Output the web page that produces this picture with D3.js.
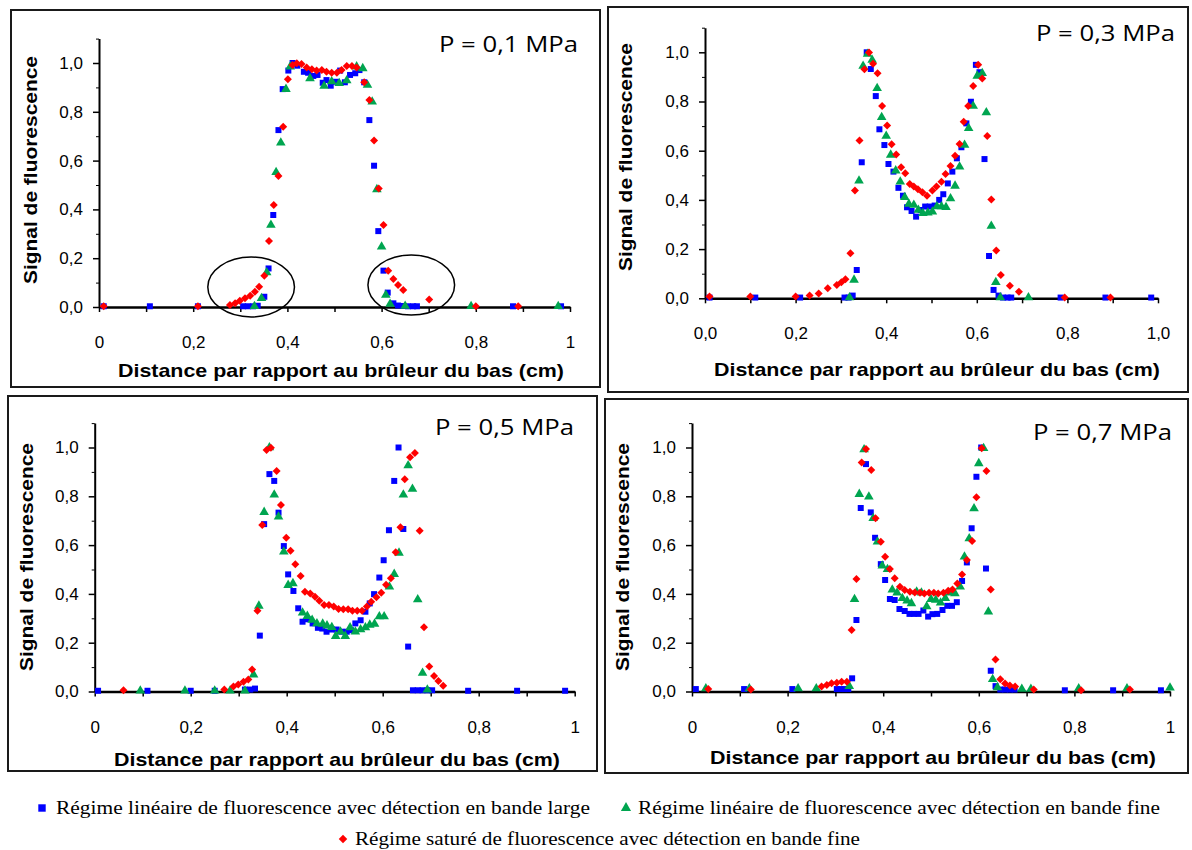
<!DOCTYPE html>
<html><head><meta charset="utf-8">
<script src="https://cdn.jsdelivr.net/npm/d3@7"></script>
<style>body{margin:0;background:#fff}svg{display:block}</style>
</head><body><svg id="c" width="1192" height="850"></svg>
<script>
// ---------- DATA ----------
const yTickValues = [0, 0.2, 0.4, 0.6, 0.8, 1.0];
const xTickValues = [0, 0.2, 0.4, 0.6, 0.8, 1.0];
const panelTitles = ["P = 0,1 MPa", "P = 0,3 MPa", "P = 0,5 MPa", "P = 0,7 MPa"];
const seriesNames = [
  "Régime linéaire de fluorescence avec détection en bande large",
  "Régime linéaire de fluorescence avec détection en bande fine",
  "Régime saturé de fluorescence avec détection en bande fine"
];
const yTitle = "Signal de fluorescence";
const xTitle = "Distance par rapport au brûleur du bas (cm)";

// P = 0,1 MPa
const p01Blue = [[0.01,0.003],[0.108,0.003],[0.21,0.003],[0.306,0.003],[0.316,0.003],[0.327,0.003],[0.337,0.005],[0.351,0.042],[0.36,0.158],[0.37,0.377],[0.381,0.725],[0.39,0.893],[0.402,0.969],[0.411,1.0],[0.421,0.989],[0.435,0.964],[0.444,0.96],[0.455,0.947],[0.464,0.951],[0.475,0.919],[0.483,0.93],[0.492,0.907],[0.503,0.923],[0.512,0.969],[0.522,0.921],[0.533,0.951],[0.544,0.958],[0.553,0.971],[0.563,0.921],[0.574,0.766],[0.584,0.579],[0.593,0.311],[0.604,0.149],[0.613,0.059],[0.625,0.015],[0.635,0.006],[0.646,0.004],[0.656,0.003],[0.667,0.003],[0.675,0.003],[0.879,0.003],[0.981,0.003]];
const p01Green = [[0.33,0.003],[0.345,0.036],[0.356,0.141],[0.365,0.336],[0.376,0.552],[0.386,0.673],[0.397,0.893],[0.406,0.985],[0.448,0.937],[0.478,0.906],[0.494,0.924],[0.510,0.917],[0.526,0.928],[0.547,0.985],[0.560,0.978],[0.570,0.910],[0.580,0.841],[0.590,0.482],[0.600,0.247],[0.609,0.049],[0.618,0.012],[0.65,0.004],[0.79,0.003],[0.975,0.003]];
const p01Red = [[0.01,0.003],[0.21,0.003],[0.278,0.008],[0.289,0.015],[0.299,0.026],[0.310,0.036],[0.321,0.046],[0.331,0.063],[0.340,0.083],[0.351,0.128],[0.361,0.27],[0.371,0.418],[0.381,0.537],[0.391,0.739],[0.401,0.933],[0.411,0.992],[0.42,0.999],[0.430,0.996],[0.441,0.982],[0.452,0.974],[0.462,0.969],[0.473,0.971],[0.483,0.964],[0.494,0.960],[0.505,0.960],[0.515,0.971],[0.526,0.988],[0.537,0.988],[0.547,0.982],[0.563,0.921],[0.574,0.848],[0.584,0.682],[0.594,0.486],[0.604,0.336],[0.614,0.149],[0.625,0.115],[0.635,0.090],[0.646,0.070],[0.701,0.031],[0.80,0.003],[0.89,0.003]];

// P = 0,3 MPa
const p03Blue = [[0.01,0.003],[0.111,0.003],[0.21,0.003],[0.308,0.003],[0.317,0.003],[0.326,0.011],[0.335,0.115],[0.346,0.553],[0.357,1.0],[0.366,0.932],[0.377,0.822],[0.385,0.687],[0.396,0.623],[0.405,0.546],[0.416,0.515],[0.427,0.449],[0.437,0.417],[0.446,0.370],[0.456,0.355],[0.466,0.332],[0.476,0.359],[0.486,0.373],[0.496,0.373],[0.507,0.377],[0.517,0.400],[0.526,0.423],[0.536,0.467],[0.546,0.515],[0.556,0.569],[0.566,0.614],[0.577,0.711],[0.587,0.799],[0.598,0.949],[0.606,0.919],[0.617,0.566],[0.627,0.172],[0.637,0.034],[0.648,0.011],[0.658,0.003],[0.668,0.003],[0.676,0.003],[0.785,0.003],[0.884,0.003],[0.985,0.003]];
const p03Green = [[0.319,0.003],[0.329,0.075],[0.340,0.478],[0.349,0.944],[0.359,0.993],[0.369,0.969],[0.380,0.854],[0.390,0.736],[0.400,0.660],[0.410,0.583],[0.421,0.519],[0.431,0.474],[0.441,0.411],[0.450,0.383],[0.461,0.379],[0.471,0.359],[0.481,0.346],[0.492,0.348],[0.502,0.352],[0.512,0.373],[0.522,0.373],[0.532,0.370],[0.542,0.406],[0.552,0.457],[0.562,0.535],[0.573,0.623],[0.582,0.691],[0.592,0.782],[0.601,0.904],[0.612,0.915],[0.621,0.755],[0.632,0.294],[0.642,0.065],[0.652,0.003],[0.714,0.003]];
const p03Red = [[0.01,0.007],[0.10,0.007],[0.20,0.007],[0.231,0.011],[0.251,0.02],[0.271,0.041],[0.291,0.054],[0.301,0.065],[0.310,0.077],[0.321,0.183],[0.331,0.438],[0.341,0.641],[0.352,0.931],[0.362,0.999],[0.371,0.953],[0.381,0.915],[0.391,0.782],[0.402,0.702],[0.412,0.626],[0.422,0.585],[0.433,0.533],[0.442,0.508],[0.452,0.465],[0.461,0.454],[0.470,0.443],[0.480,0.431],[0.490,0.417],[0.502,0.438],[0.511,0.454],[0.522,0.474],[0.531,0.505],[0.542,0.538],[0.552,0.579],[0.562,0.627],[0.571,0.718],[0.581,0.782],[0.592,0.863],[0.603,0.949],[0.612,0.894],[0.623,0.660],[0.632,0.402],[0.643,0.194],[0.653,0.095],[0.673,0.051],[0.693,0.027],[0.794,0.003],[0.895,0.003]];

// P = 0,5 MPa
const p05Blue = [[0.007,0.003],[0.11,0.003],[0.20,0.003],[0.25,0.003],[0.313,0.008],[0.324,0.008],[0.334,0.012],[0.344,0.229],[0.353,0.686],[0.364,0.891],[0.374,0.863],[0.383,0.733],[0.394,0.596],[0.403,0.480],[0.414,0.412],[0.424,0.341],[0.433,0.286],[0.444,0.296],[0.454,0.279],[0.465,0.261],[0.474,0.258],[0.483,0.245],[0.494,0.254],[0.504,0.254],[0.514,0.245],[0.525,0.245],[0.534,0.251],[0.543,0.279],[0.554,0.292],[0.564,0.327],[0.573,0.361],[0.582,0.399],[0.593,0.467],[0.602,0.538],[0.613,0.661],[0.624,0.863],[0.633,1.0],[0.643,0.666],[0.653,0.184],[0.663,0.005],[0.673,0.005],[0.683,0.005],[0.693,0.005],[0.703,0.005],[0.778,0.003],[0.88,0.003],[0.98,0.003]];
const p05Green = [[0.095,0.003],[0.188,0.003],[0.25,0.003],[0.282,0.003],[0.313,0.003],[0.331,0.069],[0.342,0.351],[0.353,0.735],[0.364,1.0],[0.374,0.806],[0.383,0.716],[0.394,0.573],[0.403,0.436],[0.413,0.443],[0.433,0.323],[0.443,0.309],[0.453,0.293],[0.463,0.279],[0.475,0.277],[0.484,0.270],[0.494,0.263],[0.502,0.227],[0.512,0.245],[0.522,0.227],[0.532,0.262],[0.543,0.245],[0.554,0.254],[0.564,0.262],[0.573,0.273],[0.583,0.277],[0.593,0.307],[0.603,0.307],[0.614,0.429],[0.624,0.481],[0.634,0.568],[0.643,0.806],[0.653,0.926],[0.662,0.830],[0.673,0.377],[0.683,0.076],[0.693,0.007]];
const p05Red = [[0.06,0.005],[0.27,0.008],[0.289,0.020],[0.299,0.029],[0.310,0.040],[0.320,0.049],[0.328,0.090],[0.339,0.331],[0.349,0.682],[0.358,0.990],[0.367,0.999],[0.379,0.904],[0.388,0.764],[0.399,0.630],[0.408,0.577],[0.418,0.522],[0.429,0.473],[0.438,0.409],[0.449,0.402],[0.459,0.388],[0.468,0.372],[0.478,0.355],[0.488,0.355],[0.498,0.348],[0.508,0.338],[0.518,0.337],[0.528,0.337],[0.537,0.331],[0.547,0.331],[0.557,0.331],[0.567,0.348],[0.576,0.368],[0.587,0.386],[0.597,0.405],[0.607,0.437],[0.617,0.464],[0.627,0.571],[0.637,0.673],[0.646,0.870],[0.657,0.960],[0.667,0.977],[0.677,0.659],[0.686,0.263],[0.697,0.102],[0.707,0.064],[0.716,0.043],[0.726,0.024]];

// P = 0,7 MPa
const p07Blue = [[0.008,0.01],[0.109,0.01],[0.21,0.01],[0.303,0.01],[0.311,0.01],[0.319,0.01],[0.327,0.01],[0.335,0.054],[0.344,0.293],[0.353,0.752],[0.364,0.932],[0.374,0.734],[0.383,0.630],[0.395,0.522],[0.404,0.457],[0.414,0.379],[0.424,0.375],[0.434,0.338],[0.445,0.330],[0.455,0.318],[0.464,0.318],[0.474,0.318],[0.484,0.332],[0.494,0.307],[0.503,0.317],[0.513,0.318],[0.524,0.334],[0.534,0.351],[0.544,0.351],[0.554,0.366],[0.565,0.453],[0.575,0.529],[0.585,0.669],[0.595,0.880],[0.605,1.0],[0.615,0.504],[0.625,0.085],[0.635,0.022],[0.645,0.008],[0.655,0.008],[0.665,0.008],[0.675,0.008],[0.78,0.005],[0.881,0.005],[0.981,0.005]];
const p07Green = [[0.029,0.012],[0.12,0.012],[0.222,0.012],[0.26,0.012],[0.329,0.022],[0.340,0.378],[0.350,0.809],[0.360,0.992],[0.370,0.798],[0.379,0.710],[0.388,0.614],[0.398,0.515],[0.409,0.501],[0.419,0.417],[0.429,0.405],[0.440,0.382],[0.450,0.372],[0.459,0.361],[0.470,0.409],[0.480,0.405],[0.491,0.348],[0.500,0.378],[0.510,0.375],[0.520,0.364],[0.530,0.382],[0.540,0.405],[0.550,0.402],[0.561,0.429],[0.570,0.552],[0.580,0.627],[0.590,0.750],[0.600,0.935],[0.610,0.997],[0.620,0.327],[0.629,0.050],[0.639,0.017],[0.69,0.01],[0.709,0.01],[0.809,0.012],[0.91,0.012],[1.0,0.015]];
const p07Red = [[0.034,0.01],[0.123,0.008],[0.271,0.020],[0.282,0.027],[0.292,0.034],[0.303,0.036],[0.313,0.040],[0.324,0.040],[0.334,0.252],[0.344,0.461],[0.355,0.939],[0.364,0.994],[0.375,0.908],[0.384,0.710],[0.395,0.614],[0.404,0.552],[0.414,0.502],[0.424,0.464],[0.435,0.429],[0.445,0.416],[0.456,0.409],[0.466,0.406],[0.477,0.405],[0.486,0.402],[0.496,0.405],[0.506,0.405],[0.515,0.402],[0.526,0.405],[0.536,0.413],[0.545,0.418],[0.555,0.443],[0.565,0.480],[0.575,0.539],[0.586,0.617],[0.595,0.796],[0.606,0.997],[0.616,0.904],[0.625,0.418],[0.635,0.131],[0.645,0.050],[0.655,0.033],[0.665,0.025],[0.676,0.020],[0.715,0.008],[0.814,0.005],[0.916,0.008]];

// Annotation ellipses on P = 0,1 MPa (data units: cx, cy, rx, ry)
const p01Ellipses = [[0.323,0.082,0.092,0.123],[0.663,0.09,0.092,0.123]];

// ---------- LAYOUT ----------
const colors = {blue:"#0000FF", green:"#00A550", red:"#FF0000"};
const panels = [
  {title:panelTitles[0], box:[11,10,589,377], x0:99, x1:570, yb:307, yt:63, xfmt:"short", series:[p01Blue,p01Green,p01Red], tx:578, ty:52, ytx:37, yty:170, xtx:341, xty:377, ellipses:p01Ellipses},
  {title:panelTitles[1], box:[608,7,580,385], x0:705, x1:1158, yb:298.3, yt:52.3, xfmt:"long", series:[p03Blue,p03Green,p03Red], tx:1175, ty:41, ytx:632, yty:157, xtx:937, xty:376},
  {title:panelTitles[2], box:[8,396,589,375], x0:94.7, x1:574.7, yb:691.5, yt:447.5, xfmt:"short", series:[p05Blue,p05Green,p05Red], tx:574, ty:435, ytx:33, yty:557, xtx:337, xty:766},
  {title:panelTitles[3], box:[605,399,583,374], x0:692, x1:1170, yb:691.5, yt:447.5, xfmt:"short", series:[p07Blue,p07Green,p07Red], tx:1172, ty:440, ytx:629, yty:557, xtx:933, xty:764}
];

const svg = d3.select("#c");
const comma = d => d3.format(".1f")(d).replace(".", ",");
const shortFmt = d => (d === 0 ? "0" : d === 1 ? "1" : comma(d));
const sansFont = "'Liberation Sans', Arial, sans-serif";

const symSquare = d3.symbol().type(d3.symbolSquare).size(36);
const symTri = d3.symbol().type(d3.symbolTriangle).size(40);
const symDiamond = d3.symbol().type(d3.symbolSquare).size(32);

function drawMarkers(g, data, kind, x, y) {
  const sel = g.append("g").selectAll("path").data(data).join("path");
  if (kind === 0) {
    sel.attr("d", symSquare()).attr("fill", colors.blue)
      .attr("transform", d => `translate(${x(d[0])},${y(d[1])})`);
  } else if (kind === 1) {
    sel.attr("d", symTri()).attr("fill", colors.green)
      .attr("transform", d => `translate(${x(d[0])},${y(d[1])})`);
  } else {
    sel.attr("d", symDiamond()).attr("fill", colors.red)
      .attr("transform", d => `translate(${x(d[0])},${y(d[1])}) rotate(45)`);
  }
}

panels.forEach(p => {
  const g = svg.append("g");
  g.append("rect").attr("x", p.box[0]).attr("y", p.box[1]).attr("width", p.box[2]).attr("height", p.box[3])
    .attr("fill", "#fff").attr("stroke", "#1a1a1a").attr("stroke-width", 2);

  const x = d3.scaleLinear().domain([0, 1]).range([p.x0, p.x1]);
  const y = d3.scaleLinear().domain([0, 1]).range([p.yb, p.yt]);
  const yFull = d3.scaleLinear().domain([0, 1.1]).range([p.yb, y(1.1)]);

  g.append("g").attr("transform", `translate(${p.x0},0)`)
    .call(d3.axisLeft(yFull).tickValues([0.1,0.3,0.5,0.7,0.9,1.1]).tickFormat("").tickSize(3).tickSizeOuter(0))
    .call(s => s.select(".domain").remove());
  const ya = g.append("g").attr("transform", `translate(${p.x0},0)`)
    .call(d3.axisLeft(yFull).tickValues(yTickValues).tickFormat(comma).tickSize(6).tickSizeOuter(0).tickPadding(10));
  ya.select(".domain").attr("stroke-width", 2);
  ya.selectAll(".tick line").attr("stroke-width", 1.5);
  ya.selectAll("text").attr("font-family", sansFont).attr("font-size", 17).attr("fill", "#000");

  g.append("g").attr("transform", `translate(0,${p.yb})`)
    .call(d3.axisBottom(x).tickValues([0.1,0.3,0.5,0.7,0.9]).tickFormat("").tickSize(5).tickSizeOuter(0))
    .call(s => s.select(".domain").remove())
    .call(s => s.selectAll(".tick line").attr("stroke-width", 1.5));
  const xa = g.append("g").attr("transform", `translate(0,${p.yb})`)
    .call(d3.axisBottom(x).tickValues(xTickValues).tickFormat(p.xfmt === "long" ? comma : shortFmt).tickSize(5).tickSizeOuter(0).tickPadding(24));
  xa.select(".domain").attr("stroke-width", 2.5);
  xa.selectAll(".tick line").attr("stroke-width", 1.5);
  xa.selectAll("text").attr("font-family", sansFont).attr("font-size", 17).attr("fill", "#000");

  g.append("text").attr("x", p.tx).attr("y", p.ty).attr("text-anchor", "end")
    .attr("font-family", "'Open Sans', 'Noto Sans', sans-serif").attr("font-size", 22)
    .attr("textLength", 139).attr("lengthAdjust", "spacingAndGlyphs").text(p.title);
  g.append("text").attr("transform", `translate(${p.ytx},${p.yty}) rotate(-90)`).attr("text-anchor", "middle")
    .attr("font-family", sansFont).attr("font-weight", "bold").attr("font-size", 19)
    .attr("textLength", 228).attr("lengthAdjust", "spacingAndGlyphs").text(yTitle);
  g.append("text").attr("x", p.xtx).attr("y", p.xty).attr("text-anchor", "middle")
    .attr("font-family", sansFont).attr("font-weight", "bold").attr("font-size", 19)
    .attr("textLength", 446).attr("lengthAdjust", "spacingAndGlyphs").text(xTitle);

  p.series.forEach((s, i) => drawMarkers(g, s, i, x, y));

  if (p.ellipses) {
    g.selectAll("ellipse.ann").data(p.ellipses).join("ellipse").attr("class", "ann")
      .attr("cx", d => x(d[0])).attr("cy", d => y(d[1]))
      .attr("rx", d => x(d[2]) - x(0)).attr("ry", d => y(0) - y(d[3]))
      .attr("fill", "none").attr("stroke", "#000").attr("stroke-width", 1.5);
  }
});

// ---------- LEGEND ----------
const legendItems = [
  {kind:0, mx:42, my:808, tx:56, len:534},
  {kind:1, mx:626, my:808, tx:638, len:522},
  {kind:2, mx:343, my:839, tx:355, len:505}
];
const lg = svg.append("g");
legendItems.forEach((it, i) => {
  const m = lg.append("path").attr("transform", `translate(${it.mx},${it.my})` + (it.kind === 2 ? " rotate(45)" : ""));
  if (it.kind === 0) m.attr("d", d3.symbol().type(d3.symbolSquare).size(55)()).attr("fill", colors.blue);
  if (it.kind === 1) m.attr("d", d3.symbol().type(d3.symbolTriangle).size(45)()).attr("fill", colors.green);
  if (it.kind === 2) m.attr("d", d3.symbol().type(d3.symbolSquare).size(36)()).attr("fill", colors.red);
  lg.append("text").attr("x", it.tx).attr("y", it.my + 6)
    .attr("font-family", "'Liberation Serif', 'Times New Roman', serif").attr("font-size", 19)
    .attr("textLength", it.len).attr("lengthAdjust", "spacingAndGlyphs").text(seriesNames[i]);
});
</script>
</body></html>
